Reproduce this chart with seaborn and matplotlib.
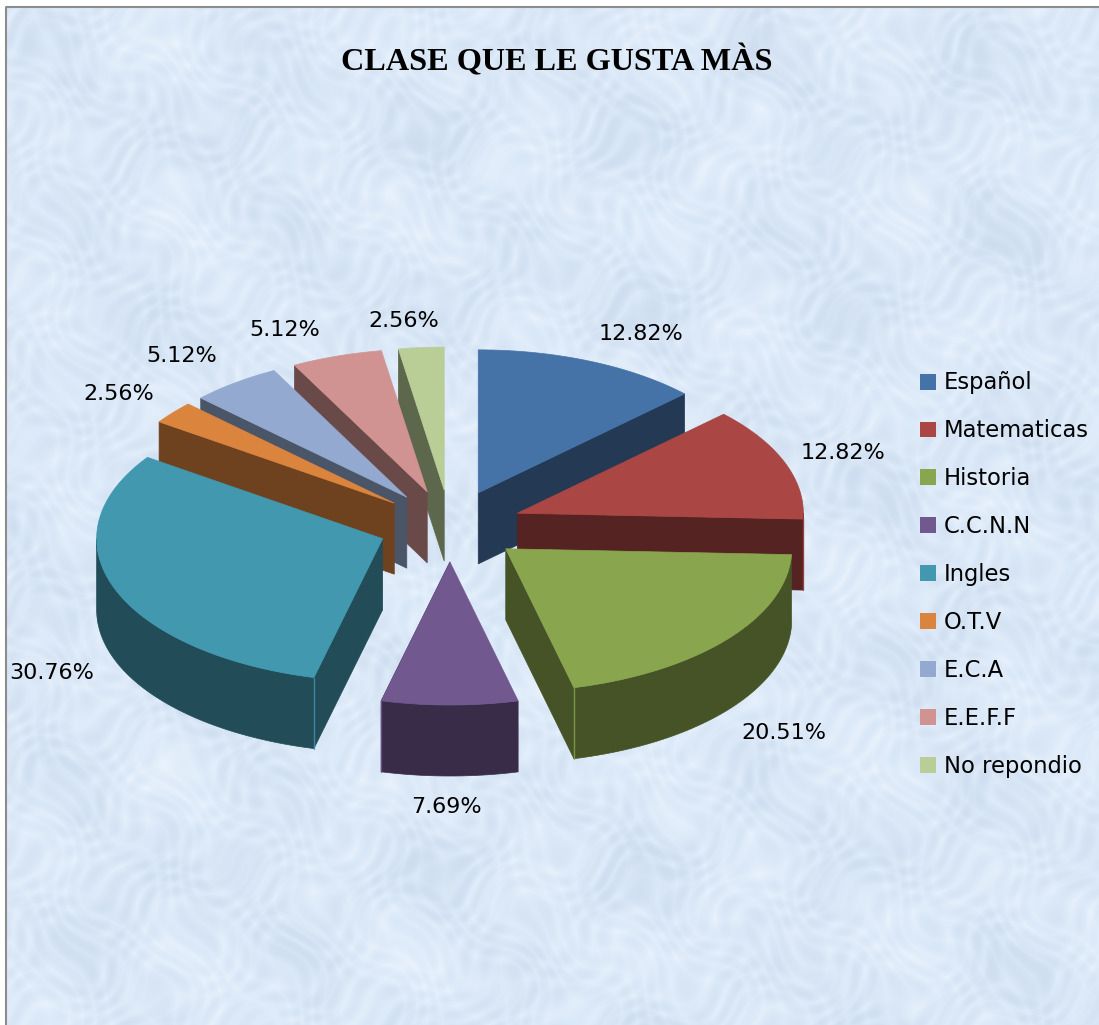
import numpy as np
import matplotlib
matplotlib.use('Agg')
import matplotlib.pyplot as plt
from matplotlib.patches import Patch
import seaborn as sns

# datos del grafico
clases = ['Español', 'Matematicas', 'Historia', 'C.C.N.N', 'Ingles', 'O.T.V', 'E.C.A', 'E.E.F.F', 'No repondio']
porcentajes = [12.82, 12.82, 20.51, 7.69, 30.76, 2.56, 5.12, 5.12, 2.56]
colores = ['#4572A7', '#AA4643', '#89A54E', '#71588F', '#4198AF', '#DB843D', '#93A9CF', '#D19392', '#B9CD96']
titulo = 'CLASE QUE LE GUSTA MÀS'

# geometria del pastel, en pixeles de la figura
cx, cy = 450, 526
radio = 286
aplastado = 0.5
separacion = 72
grosor = 71
ajuste_etiquetas = [(51, -27), (58, -10), (57, 94), (-3, 102), (-63, 84), (-54, -19), (-53, -27), (-52, -26), (-17, -27)]

sns.set_theme(style='white')
plt.rcParams['font.family'] = ['DejaVu Sans']

fig = plt.figure(figsize=(10.99, 10.25), dpi=100, facecolor='white')
ax = fig.add_axes([0, 0, 1, 1])

# fondo con textura azul claro, manchas sobre lineas finas
yy, xx = np.mgrid[0:1018, 0:1093]
wx = xx + 14 * np.sin(yy / 23.0) + 9 * np.sin(xx / 17.0 + yy / 31.0)
wy = yy + 14 * np.sin(xx / 19.0) + 9 * np.cos(yy / 13.0 - xx / 29.0)
vetas = (np.abs(np.sin(wx / 9.0 + wy / 13.0)) + np.abs(np.sin(wx / 7.0 - wy / 11.0)) + np.abs(np.sin(wy / 8.0 + wx / 21.0)))
manchas = np.sin(wx / 37.0) * np.sin(wy / 29.0) + 0.7 * np.sin(wx / 61.0 - wy / 47.0) * np.cos(wy / 83.0 + wx / 53.0)
textura = vetas + 0.8 * manchas
fondo = sns.blend_palette(['#ebf4fd', '#dce9f8', '#ccdcee'], as_cmap=True)
ax.imshow(textura, cmap=fondo, extent=[6, 1099, 1025, 7], aspect='auto', zorder=0, interpolation='bilinear')
ax.plot([6, 6, 1099], [1025, 7, 7], color='#8c8c8c', lw=1.5, zorder=1)


def punto(theta, r, x0, y0, z=0):
    return x0 + r * np.sin(theta), y0 - aplastado * r * np.cos(theta) + z


paleta = sns.color_palette(colores)
total = sum(porcentajes)
fin = np.cumsum(porcentajes) / total * 2 * np.pi
inicio = np.r_[0, fin[:-1]]
medio = (inicio + fin) / 2

# se pinta de atras hacia adelante
for i in np.argsort(-np.cos(medio)):
    color = paleta[i]
    oscuro = tuple(c * 0.5 for c in color)
    x0, y0 = punto(medio[i], separacion, cx, cy)

    # cara del corte que se ve
    borde = inicio[i] if np.sin(inicio[i]) < 0 else fin[i]
    bx, by = punto(borde, radio, x0, y0)
    ax.fill([x0, bx, bx, x0], [y0, by, by + grosor, y0 + grosor], color=oscuro, lw=0.5, zorder=2)

    # pared exterior, solo la mitad de adelante
    a, b = max(inicio[i], np.pi / 2), min(fin[i], 3 * np.pi / 2)
    if a < b:
        t = np.linspace(a, b, 80)
        px, py = punto(t, radio, x0, y0)
        ax.fill(np.r_[px, px[::-1]], np.r_[py, py[::-1] + grosor], color=oscuro, lw=0.5, zorder=2)

    # linea clara en la esquina entre el corte y la pared
    if a <= borde <= b:
        ax.plot([bx, bx], [by, by + grosor], color=color, lw=1, alpha=0.8, zorder=2)

    # cara de arriba
    t = np.linspace(inicio[i], fin[i], 120)
    px, py = punto(t, radio, x0, y0)
    ax.fill(np.r_[x0, px], np.r_[y0, py], color=color, lw=0.5, zorder=2)

    # etiqueta de porcentaje
    lx, ly = punto(medio[i], radio + separacion, cx, cy)
    dx, dy = ajuste_etiquetas[i]
    ax.text(lx + dx, ly + dy, f'{porcentajes[i]:.2f}%', ha='center', va='center', fontsize=16, color='black', zorder=3)

ax.text(557, 61, titulo, ha='center', va='center', fontsize=23.2, fontweight='bold',
        family='Liberation Serif', color='black', zorder=3)

marcas = [Patch(facecolor=c, edgecolor='none') for c in paleta]
ax.legend(marcas, clases, loc='upper left', bbox_to_anchor=(920 / 1099, 1 - 371.5 / 1025), frameon=False,
          fontsize=16.3, borderpad=0, borderaxespad=0, handlelength=0.7, handleheight=0.7, handletextpad=0.35,
          labelspacing=1.10, labelcolor='black')

ax.set_xlim(0, 1099)
ax.set_ylim(1025, 0)
ax.axis('off')

fig.savefig('out.png', dpi=100)
